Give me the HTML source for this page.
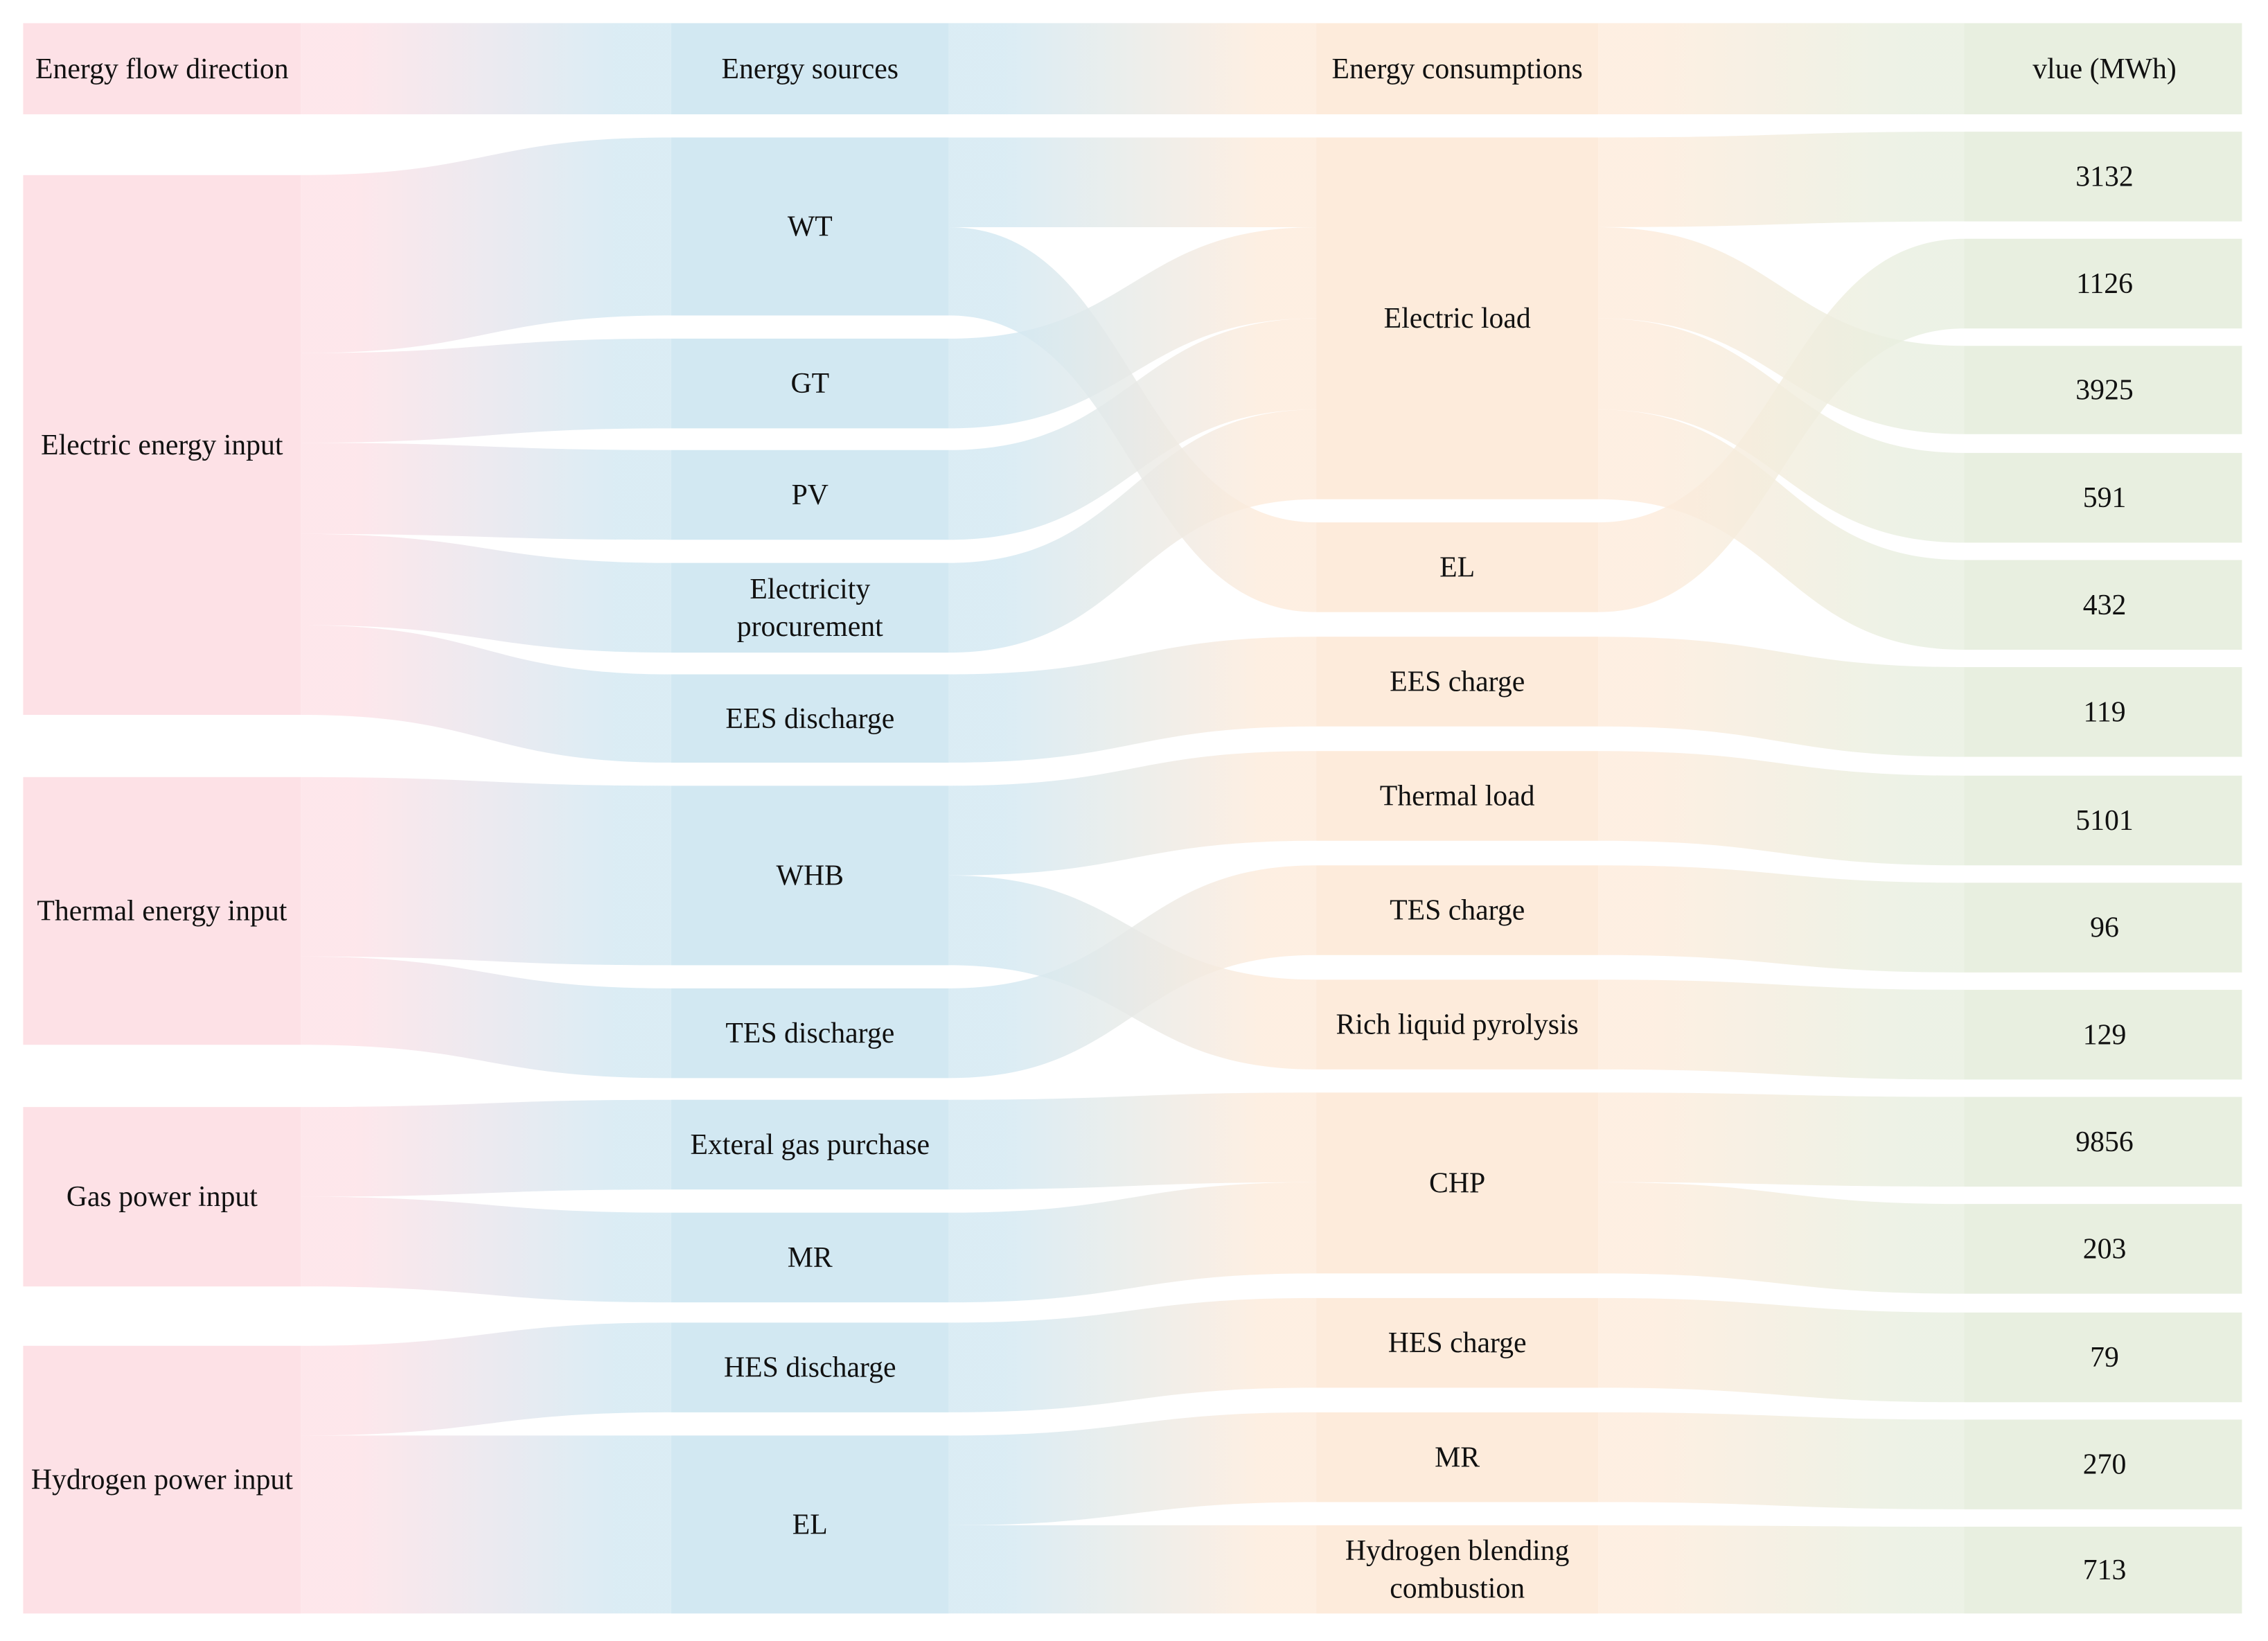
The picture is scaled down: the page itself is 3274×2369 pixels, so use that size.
<!DOCTYPE html>
<html><head><meta charset="utf-8"><style>
html,body{margin:0;padding:0;background:#fff;}
svg{display:block;}
text{font-family:"Liberation Serif","Times New Roman",serif;font-size:20px;fill:#111;}
</style></head><body>
<svg id="chart" width="3274" height="2369" viewBox="0 0 1568 1134" preserveAspectRatio="none" xmlns="http://www.w3.org/2000/svg">
<defs id="defs"></defs>
<g id="links"></g>
<g id="nodes"></g>
<g id="labels" font-family="Liberation Serif, serif" font-size="20"></g>
</svg>
<script>
const colColors = ['#fde1e6', '#d2e8f2', '#fdebdb', '#e8efe0'];
const colX = [[16,208],[464,656],[910,1105],[1358,1550]];
const col1Nodes = [['Energy flow direction',16,79],['Electric energy input',121,494],['Thermal energy input',537,722],['Gas power input',765,889],['Hydrogen power input',930,1115]];
const col2Nodes = [['Energy sources',16,79],['WT',95,218],['GT',234,296],['PV',311,373],['Electricity|procurement',389,451],['EES discharge',466,527],['WHB',543,667],['TES discharge',683,745],['Exteral gas purchase',760,822],['MR',838,900],['HES discharge',914,976],['EL',992,1115]];
const col3Nodes = [['Energy consumptions',16,79],['Electric load',95,345],['EL',361,423],['EES charge',440,502],['Thermal load',519,581],['TES charge',598,660],['Rich liquid pyrolysis',677,739],['CHP',755,880],['HES charge',897,959],['MR',976,1038],['Hydrogen blending|combustion',1054,1115]];
const col4Values = ['vlue (MWh)','3132','1126','3925','591','432','119','5101','96','129','9856','203','79','270','713'];
const col4Y = [[16,79],[91,153],[165,227],[239,300],[313,375],[387,449],[461,523],[536,598],[610,672],[684,746],[758,820],[832,894],[907,969],[981,1043],[1055,1115]];
const links01 = [[16,79,16,79],[121,244,95,218],[244,306,234,296],[306,369,311,373],[369,432,389,451],[432,494,466,527],[537,661,543,667],[661,722,683,745],[765,827,760,822],[827,889,838,900],[930,992,914,976],[992,1115,992,1115]];
const links12 = [[16,79,16,79],[95,157,95,157],[157,218,361,423],[234,296,157,220],[311,373,220,283],[389,451,283,345],[466,527,440,502],[543,605,519,581],[605,667,677,739],[683,745,598,660],[760,822,755,817],[838,900,817,880],[914,976,897,959],[992,1054,976,1038],[1054,1115,1054,1115]];
const links23 = [[16,79,16,79],[95,157,91,153],[157,220,239,300],[220,283,313,375],[283,345,387,449],[361,423,165,227],[440,502,461,523],[519,581,536,598],[598,660,610,672],[677,739,684,746],[755,817,758,820],[817,880,832,894],[897,959,907,969],[976,1038,981,1043],[1054,1115,1055,1115]];

const NS='http://www.w3.org/2000/svg';
const defs=document.getElementById('defs');
const gL=document.getElementById('links'), gN=document.getElementById('nodes'), gT=document.getElementById('labels');
function mk(t,a){const e=document.createElementNS(NS,t);for(const k in a)e.setAttribute(k,a[k]);return e;}
for(let c=0;c<3;c++){
  const g=mk('linearGradient',{id:'g'+c,gradientUnits:'userSpaceOnUse',x1:colX[c][1],x2:colX[c+1][0],y1:0,y2:0});
  g.appendChild(mk('stop',{offset:'0.15','stop-color':colColors[c]}));
  g.appendChild(mk('stop',{offset:'0.85','stop-color':colColors[c+1]}));
  defs.appendChild(g);
}
[links01,links12,links23].forEach((arr,c)=>{
  const x0=colX[c][1], x1=colX[c+1][0], xm=(x0+x1)/2;
  arr.forEach(l=>{
    const [a,b,s,t]=l;
    const d=`M${x0},${a} C${xm},${a} ${xm},${s} ${x1},${s} L${x1},${t} C${xm},${t} ${xm},${b} ${x0},${b} Z`;
    const p=mk('path',{d:d,fill:'url(#g'+c+')','fill-opacity':0.8});
    
    
    gL.appendChild(p);
  });
});
function slug(s){return s.replace('|',' ').toLowerCase().replace(/[^a-z0-9]+/g,'-').replace(/^-|-$/g,'');}
function addLabel(txt,cx,cy,name){
  const lines=txt.split('|');
  const t=mk('text',{x:cx,'text-anchor':'middle','font-family':'Liberation Serif, serif','font-size':'20'});
  
  
  lines.forEach((ln,i)=>{
    const sp=mk('tspan',{x:cx,y:cy+6.5+(i-(lines.length-1)/2)*26});
    sp.textContent=ln;t.appendChild(sp);
  });
  gT.appendChild(t);
}
[col1Nodes,col2Nodes,col3Nodes].forEach((arr,c)=>{
  arr.forEach(n=>{
    const r=mk('rect',{x:colX[c][0],y:n[1],width:colX[c][1]-colX[c][0],height:n[2]-n[1],fill:colColors[c]});
    
    
    gN.appendChild(r);
    addLabel(n[0],(colX[c][0]+colX[c][1])/2,(n[1]+n[2])/2,'label-'+slug(n[0]));
  });
});
col4Values.forEach((v,i)=>{
  const y=col4Y[i];
  const r=mk('rect',{x:colX[3][0],y:y[0],width:colX[3][1]-colX[3][0],height:y[1]-y[0],fill:colColors[3]});
  
  
  gN.appendChild(r);
  addLabel(v,1455,(y[0]+y[1])/2,'value-label-'+slug(v));
});
</script>
</body></html>
